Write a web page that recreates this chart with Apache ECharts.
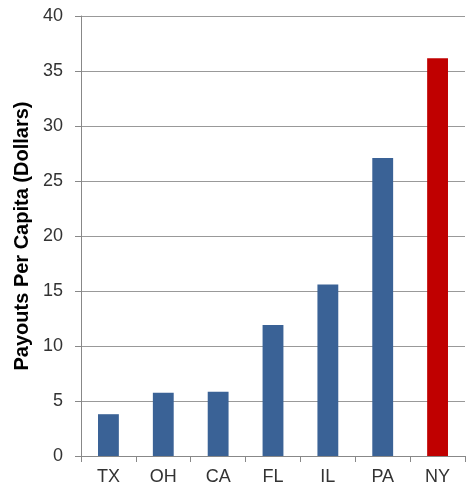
<!DOCTYPE html>
<html><head><meta charset="utf-8">
<script src="https://cdn.jsdelivr.net/npm/echarts@6/dist/echarts.min.js"></script>
<style>html,body{margin:0;padding:0;background:#fff}#c{width:474px;height:487px}</style>
</head><body><div id="c"></div>
<script>
const categories = ["TX","OH","CA","FL","IL","PA","NY"];
const values = [3.8, 5.75, 5.85, 11.9, 15.6, 27.1, 36.15];
const yTicks = [0,5,10,15,20,25,30,35,40];
const blue = '#3A6296', red = '#C00000';
const chart = echarts.init(document.getElementById('c'));
chart.setOption({
  animation:false,
  grid:{left:81,right:9,top:16,bottom:31},
  xAxis:{type:'category',data:categories,
    axisLine:{lineStyle:{color:'#888',width:1}},
    axisTick:{show:true,length:6,lineStyle:{color:'#888'}},
    axisLabel:{color:'#333',fontSize:18,fontFamily:'Liberation Sans',margin:12}},
  yAxis:{type:'value',min:0,max:40,interval:5,
    name:'Payouts Per Capita (Dollars)',nameLocation:'middle',nameGap:47,
    nameTextStyle:{fontSize:20,fontWeight:'bold',color:'#000',fontFamily:'Liberation Sans'},
    axisLine:{show:true,lineStyle:{color:'#888'}},
    axisTick:{show:true,length:6,lineStyle:{color:'#888'}},
    splitLine:{lineStyle:{color:'#999'}},
    axisLabel:{color:'#333',fontSize:18,fontFamily:'Liberation Sans',margin:18}},
  series:[{type:'bar',barWidth:'38%',
    data:values.map((v,i)=>({value:v,itemStyle:{color:categories[i]==='NY'?red:blue}}))}]
});
</script></body></html>
